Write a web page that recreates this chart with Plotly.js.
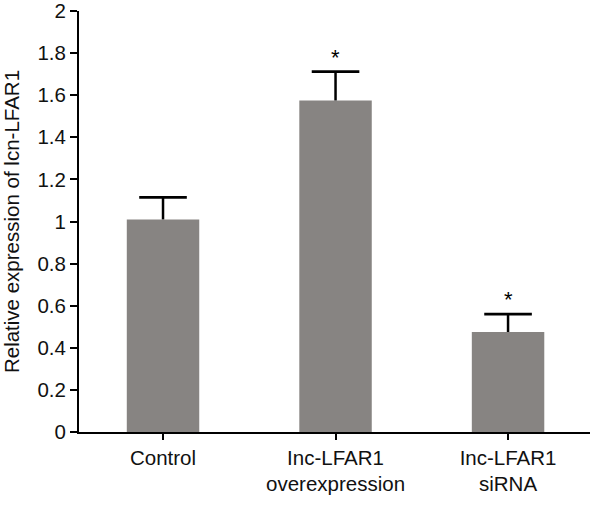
<!DOCTYPE html>
<html>
<head>
<meta charset="utf-8">
<script src="https://cdn.plot.ly/plotly-3.0.1.min.js"></script>
<style>html,body{margin:0;padding:0;background:#fff;}#chart{width:600px;height:505px;}</style>
</head>
<body>
<div id="chart"></div>
<script>
const categories = ["Control", "Inc-LFAR1<br>overexpression", "Inc-LFAR1<br>siRNA"];
const values = [1.01, 1.575, 0.475];
const errors = [0.105, 0.137, 0.085];
const significance = ["", "*", "*"];
const yTickVals = [0, 0.2, 0.4, 0.6, 0.8, 1, 1.2, 1.4, 1.6, 1.8, 2];
const yTickText = ["0", "0.2", "0.4", "0.6", "0.8", "1", "1.2", "1.4", "1.6", "1.8", "2"];
const yTitle = "Relative expression of lcn-LFAR1";

const font = "Liberation Sans, Arial, sans-serif";
const tops = values.map((v, i) => v + errors[i]);

const barTrace = {
  type: "bar",
  x: categories,
  y: values,
  width: 0.42,
  marker: {color: "#878482", line: {width: 0}},
  error_y: {type: "data", symmetric: false, array: errors, arrayminus: errors.map(() => 0),
            color: "#000", thickness: 2.5, width: 0},
  hoverinfo: "none"
};

const capTrace = {
  type: "scatter",
  mode: "markers",
  x: categories,
  y: tops,
  marker: {symbol: "line-ew-open", size: 34, color: "#000", line: {width: 2.8, color: "#000"}},
  hoverinfo: "none"
};

const annotations = categories.map((c, i) => ({
  x: c, y: tops[i], xref: "x", yref: "y",
  text: significance[i], showarrow: false, yanchor: "bottom", yshift: 0,
  font: {family: font, size: 22, color: "#000"}
})).filter(a => a.text);

const layout = {
  width: 600, height: 505,
  margin: {l: 79, r: 10, t: 11, b: 73},
  paper_bgcolor: "#fff", plot_bgcolor: "#fff",
  showlegend: false,
  font: {family: font, color: "#111"},
  xaxis: {
    range: [-0.487, 2.475], showgrid: false, zeroline: false,
    showline: true, linecolor: "#000", linewidth: 2,
    ticks: "outside", ticklen: 6, tickwidth: 2, tickcolor: "#000",
    tickfont: {family: font, size: 20.5, color: "#111"}, fixedrange: true
  },
  yaxis: {
    range: [0, 2], tickmode: "array", tickvals: yTickVals, ticktext: yTickText,
    showgrid: false, zeroline: false,
    showline: true, linecolor: "#000", linewidth: 2,
    ticks: "outside", ticklen: 7, tickwidth: 2, tickcolor: "#000",
    ticklabeloverflow: "allow",
    tickfont: {family: font, size: 20.5, color: "#111"},
    title: {text: yTitle, font: {family: font, size: 20.5, color: "#111"}, standoff: 12},
    fixedrange: true
  },
  annotations: annotations
};

Plotly.newPlot("chart", [barTrace, capTrace], layout, {displayModeBar: false, staticPlot: true});
</script>
</body>
</html>
